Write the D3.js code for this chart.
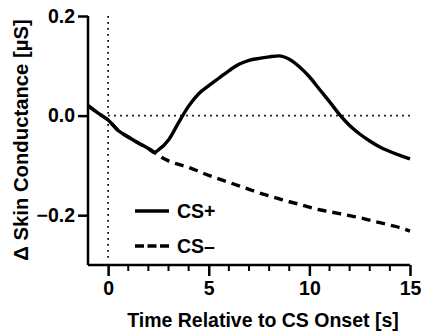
<!DOCTYPE html>
<html>
<head>
<meta charset="utf-8">
<script src="https://cdn.jsdelivr.net/npm/d3@7"></script>
<style>
  body { margin: 0; background: #fff; }
  text { font-family: "Liberation Sans", Arial, sans-serif; font-weight: bold; }
</style>
</head>
<body>
<svg id="chart"></svg>
<script>
// time points (s)
var time = [-1, -0.5, 0, 0.5, 1, 1.5, 2, 2.3, 2.5, 3, 3.5, 4, 4.5, 5, 5.5, 6, 6.5, 7, 7.5, 8, 8.5, 9, 9.5, 10, 10.5, 11, 11.5, 12, 12.5, 13, 13.5, 14, 14.5, 15];
// CS+ response
var csPlus = [0.02, 0.005, -0.009, -0.03, -0.043, -0.055, -0.066, -0.074, -0.069, -0.049, -0.014, 0.019, 0.044, 0.06, 0.075, 0.09, 0.103, 0.111, 0.115, 0.118, 0.12, 0.113, 0.098, 0.078, 0.053, 0.028, 0.002, -0.02, -0.037, -0.051, -0.063, -0.072, -0.08, -0.087];
// CS- response
var csMinus = [0.02, 0.005, -0.009, -0.03, -0.043, -0.055, -0.066, -0.074, -0.08, -0.091, -0.098, -0.104, -0.112, -0.12, -0.127, -0.134, -0.141, -0.148, -0.155, -0.161, -0.167, -0.173, -0.178, -0.184, -0.189, -0.193, -0.197, -0.201, -0.205, -0.21, -0.215, -0.22, -0.225, -0.232];

var xMajor = [0, 5, 10, 15];
var xMinor = [1, 2, 3, 4, 6, 7, 8, 9, 11, 12, 13, 14];
var yTicks = [-0.2, 0, 0.2];
var legendNames = ["CS+", "CS\u2013"];

var width = 422, height = 335;
var svg = d3.select("#chart")
    .attr("width", width)
    .attr("height", height);

var x = d3.scaleLinear().domain([-1, 15]).range([88, 410]);
var y = d3.scaleLinear().domain([-0.3, 0.2]).range([265, 16]);

// dotted reference lines
svg.append("line")
    .attr("x1", x(0)).attr("x2", x(0))
    .attr("y1", y(0.2)).attr("y2", y(-0.3) - 3)
    .attr("stroke", "#000")
    .attr("stroke-width", 1.7)
    .attr("stroke-dasharray", "1.7,4.3");
svg.append("line")
    .attr("x1", x(0)).attr("x2", x(15))
    .attr("y1", y(0)).attr("y2", y(0))
    .attr("stroke", "#000")
    .attr("stroke-width", 1.7)
    .attr("stroke-dasharray", "1.7,4.3");

// x axis
var xAxis = svg.append("g")
    .attr("transform", "translate(0," + y(-0.3) + ")")
    .call(d3.axisBottom(x).tickValues(xMajor).tickSize(11).tickPadding(5).tickFormat(d3.format("d")));
xAxis.select(".domain").attr("stroke-width", 2.5).attr("d", "M" + x(-1) + ",0H" + x(15));
xAxis.selectAll(".tick line").attr("stroke-width", 2.5);
xAxis.selectAll(".tick text").attr("font-size", "19.5px").attr("fill", "#000");

svg.append("g")
    .attr("transform", "translate(0," + y(-0.3) + ")")
    .selectAll("line")
    .data(xMinor)
    .enter().append("line")
    .attr("x1", function(d) { return x(d); })
    .attr("x2", function(d) { return x(d); })
    .attr("y1", 0).attr("y2", 6)
    .attr("stroke", "#000")
    .attr("stroke-width", 2);

// y axis
var yAxis = svg.append("g")
    .attr("transform", "translate(" + x(-1) + ",0)")
    .call(d3.axisLeft(y).tickValues(yTicks).tickSize(10).tickPadding(3).tickFormat(d3.format(".1f")));
yAxis.select(".domain").attr("stroke-width", 2.5).attr("d", "M0," + y(0.2) + "V" + y(-0.3));
yAxis.selectAll(".tick line").attr("stroke-width", 2.5);
yAxis.selectAll(".tick text").attr("font-size", "19.5px").attr("fill", "#000");

// series
var line = d3.line()
    .x(function(d) { return x(d[0]); })
    .y(function(d) { return y(d[1]); })
    .curve(d3.curveMonotoneX);

svg.append("path")
    .datum(d3.zip(time, csMinus))
    .attr("d", line)
    .attr("fill", "none")
    .attr("stroke", "#000")
    .attr("stroke-width", 3.4)
    .attr("stroke-dasharray", "9,6");

svg.append("path")
    .datum(d3.zip(time, csPlus))
    .attr("d", line)
    .attr("fill", "none")
    .attr("stroke", "#000")
    .attr("stroke-width", 3.4);

// legend
var legend = svg.append("g");
legendNames.forEach(function(name, i) {
  var ly = 211 + i * 35;
  legend.append("line")
    .attr("x1", 135).attr("x2", 169)
    .attr("y1", ly).attr("y2", ly)
    .attr("stroke", "#000")
    .attr("stroke-width", 3.6)
    .attr("stroke-dasharray", i == 0 ? null : "9,3.5");
  legend.append("text")
    .attr("x", 177)
    .attr("y", ly + 7)
    .attr("font-size", "19.5px")
    .text(name);
});

// axis titles
svg.append("text")
    .attr("x", 263)
    .attr("y", 327)
    .attr("text-anchor", "middle")
    .attr("font-size", "19.5px")
    .text("Time Relative to CS Onset [s]");

svg.append("text")
    .attr("transform", "translate(28,140) rotate(-90)")
    .attr("text-anchor", "middle")
    .attr("font-size", "20.3px")
    .text("\u0394 Skin Conductance [\u00b5S]");
</script>
</body>
</html>
